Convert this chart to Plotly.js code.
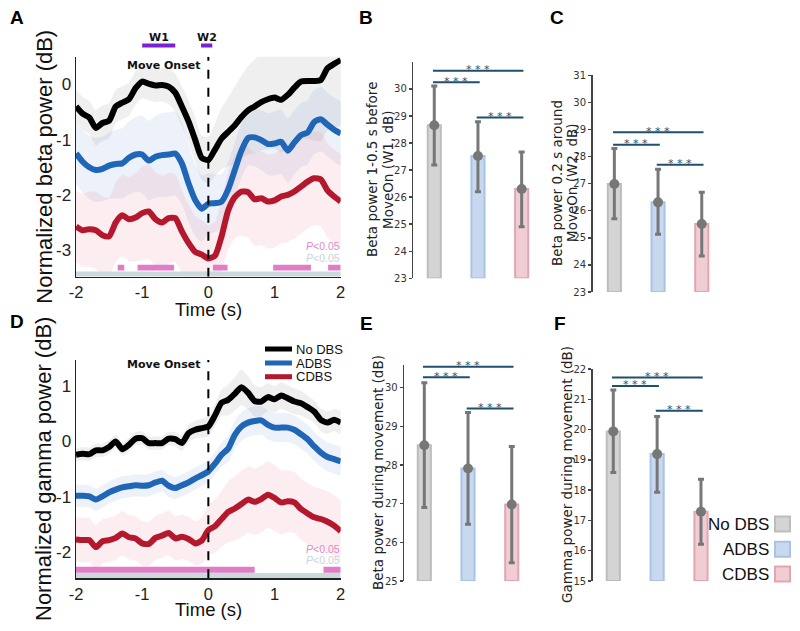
<!DOCTYPE html>
<html><head><meta charset="utf-8">
<script src="https://cdn.plot.ly/plotly-3.0.1.min.js"></script>
<style>html,body{margin:0;padding:0;background:#fff}#chart{width:800px;height:631px}</style>
</head><body><div id="chart"></div>
<script>
// ---------- DATA ----------
const time = [-2,-1.9,-1.8,-1.7,-1.6,-1.5,-1.4,-1.3,-1.2,-1.1,-1,-0.9,-0.8,-0.7,-0.6,-0.5,-0.4,-0.3,-0.2,-0.1,0,0.1,0.2,0.3,0.4,0.5,0.6,0.7,0.8,0.9,1,1.1,1.2,1.3,1.4,1.5,1.6,1.7,1.8,1.9,2];
const groups = ['No DBS','ADBS','CDBS'];

// Panel A: normalized beta power (dB)
const betaNoDBS = [-0.40,-0.53,-0.60,-0.79,-0.70,-0.66,-0.40,-0.33,-0.27,-0.07,0.05,0.01,-0.02,-0.01,-0.04,-0.15,-0.40,-0.67,-1.00,-1.33,-1.37,-1.18,-0.98,-0.86,-0.74,-0.59,-0.47,-0.40,-0.32,-0.27,-0.24,-0.28,-0.19,-0.06,0.05,0.06,0.06,0.08,0.29,0.37,0.44];
const betaADBS  = [-1.25,-1.40,-1.50,-1.55,-1.53,-1.47,-1.44,-1.43,-1.33,-1.27,-1.27,-1.38,-1.31,-1.28,-1.27,-1.25,-1.43,-1.79,-2.09,-2.25,-2.16,-2.15,-2.12,-1.90,-1.55,-1.20,-0.97,-0.96,-1.01,-1.08,-1.07,-1.04,-1.20,-1.05,-0.92,-0.87,-0.68,-0.63,-0.73,-0.82,-0.89];
const betaCDBS  = [-2.57,-2.64,-2.62,-2.64,-2.73,-2.75,-2.50,-2.37,-2.44,-2.41,-2.33,-2.30,-2.44,-2.50,-2.42,-2.42,-2.66,-2.87,-3.03,-3.08,-3.15,-3.10,-2.75,-2.28,-2.04,-1.94,-1.95,-2.08,-2.06,-2.12,-2.10,-2.03,-2.00,-1.94,-1.85,-1.76,-1.70,-1.72,-1.92,-2.03,-2.12];
const betaSemNoDBS = [0.30,0.30,0.30,0.32,0.32,0.32,0.30,0.30,0.30,0.30,0.30,0.30,0.30,0.30,0.32,0.34,0.36,0.38,0.40,0.40,0.42,0.48,0.55,0.62,0.70,0.75,0.80,0.85,0.88,0.90,0.92,0.95,0.98,1.00,1.02,1.05,1.08,1.10,1.12,1.15,1.18];
const betaSemADBS  = [0.55,0.56,0.57,0.58,0.58,0.60,0.62,0.64,0.66,0.68,0.70,0.72,0.74,0.76,0.76,0.76,0.74,0.70,0.65,0.60,0.55,0.52,0.50,0.50,0.50,0.50,0.50,0.52,0.54,0.56,0.58,0.58,0.58,0.58,0.58,0.58,0.58,0.58,0.58,0.58,0.58];
const betaSemCDBS  = [0.65,0.66,0.68,0.70,0.70,0.70,0.72,0.74,0.76,0.80,0.85,0.85,0.85,0.85,0.82,0.80,0.75,0.70,0.65,0.62,0.60,0.62,0.65,0.70,0.75,0.80,0.82,0.84,0.85,0.85,0.85,0.85,0.85,0.85,0.85,0.85,0.85,0.85,0.85,0.85,0.85];
const betaSigPink = [[-1.37,-1.27],[-1.07,-0.52],[0.07,0.29],[0.98,1.55],[1.81,2.0]];
const betaSigGray = [[-2,2]];
const windowW1 = [-1.0,-0.5];
const windowW2 = [-0.11,0.06];

// Panel D: normalized gamma power (dB)
const gammaNoDBS = [-0.24,-0.22,-0.23,-0.16,-0.16,-0.10,0.00,-0.14,-0.06,0.05,0.06,-0.03,-0.03,-0.03,0.05,0.04,-0.03,0.15,0.21,0.24,0.27,0.47,0.70,0.75,0.86,0.98,0.88,0.73,0.72,0.80,0.76,0.83,0.78,0.72,0.69,0.62,0.54,0.39,0.34,0.39,0.34];
const gammaADBS  = [-0.98,-0.98,-0.99,-1.05,-0.99,-0.92,-0.87,-0.83,-0.81,-0.79,-0.80,-0.79,-0.74,-0.71,-0.80,-0.84,-0.79,-0.74,-0.67,-0.61,-0.54,-0.40,-0.24,-0.13,0.12,0.27,0.34,0.37,0.38,0.30,0.25,0.25,0.25,0.21,0.13,0.04,-0.09,-0.20,-0.28,-0.32,-0.36];
const gammaCDBS  = [-1.77,-1.78,-1.78,-1.91,-1.80,-1.78,-1.74,-1.66,-1.73,-1.75,-1.84,-1.85,-1.74,-1.70,-1.65,-1.75,-1.72,-1.76,-1.84,-1.79,-1.60,-1.53,-1.40,-1.27,-1.21,-1.13,-1.05,-1.09,-1.04,-0.96,-1.02,-1.10,-1.08,-1.10,-1.22,-1.30,-1.37,-1.40,-1.45,-1.52,-1.62];
const gammaSemNoDBS = [0.12,0.12,0.12,0.12,0.12,0.12,0.12,0.12,0.12,0.12,0.12,0.12,0.12,0.12,0.12,0.13,0.14,0.15,0.16,0.17,0.18,0.20,0.24,0.28,0.30,0.32,0.30,0.28,0.26,0.25,0.24,0.24,0.24,0.23,0.22,0.21,0.20,0.20,0.20,0.20,0.20];
const gammaSemADBS  = [0.20,0.20,0.20,0.20,0.20,0.20,0.20,0.20,0.20,0.20,0.20,0.20,0.20,0.20,0.20,0.20,0.20,0.20,0.20,0.20,0.20,0.20,0.22,0.24,0.25,0.26,0.26,0.26,0.26,0.26,0.26,0.26,0.26,0.26,0.26,0.26,0.26,0.26,0.26,0.26,0.26];
const gammaSemCDBS  = [0.40,0.40,0.40,0.40,0.40,0.40,0.40,0.40,0.40,0.40,0.40,0.40,0.40,0.40,0.40,0.40,0.40,0.40,0.40,0.42,0.45,0.48,0.50,0.55,0.58,0.60,0.60,0.60,0.60,0.60,0.60,0.58,0.56,0.55,0.55,0.55,0.55,0.55,0.55,0.55,0.55];
const gammaSigPink = [[-2,0.70],[1.74,2.0]];
const gammaSigGray = [[-2,2]];

// Bar panels: mean, lower and upper whisker, significance bar heights
const sigPairs = [[1,3],[1,2],[2,3]];
const bMean = [28.66,27.52,26.30], bLow = [27.19,26.20,24.91], bHigh = [30.11,28.79,27.67], bSig = [30.67,30.25,28.94];
const cMean = [26.99,26.31,25.51], cLow = [25.70,25.13,24.33], cHigh = [28.30,27.53,26.68], cSig = [28.90,28.44,27.70];
const eMean = [28.51,27.91,26.98], eLow = [26.90,26.47,25.47], eHigh = [30.13,29.36,28.48], eSig = [30.54,30.27,29.46];
const fMean = [19.94,19.19,17.29], fLow = [18.58,17.93,16.21], fHigh = [21.31,20.43,18.36], fSig = [21.72,21.44,20.62];

// ---------- STYLE ----------
const W = 800, H = 631;
const px = v => v / W, py = v => 1 - v / H;
const AR = 'Liberation Sans, Arial, sans-serif';
const DV = 'DejaVu Sans, Verdana, sans-serif';
const lineCol = ['#000000','#1f66b7','#b3182d'];
const bandCol = ['rgba(140,140,140,0.14)','rgba(90,140,210,0.11)','rgba(230,110,130,0.12)'];
const barFill = ['#d4d4d4','#c8d8ee','#f0cdd3'];
const barEdge = ['#bdbdbd','#a9c3e5','#e2a6b1'];
const sigCol = '#1f4f6d';
const pinkStrip = '#df7ec6', grayStrip = '#c9d9dc';

const traces = [], shapes = [], annotations = [];
const layout = {width:W, height:H, margin:{l:0,r:0,t:0,b:0}, paper_bgcolor:'#fff', plot_bgcolor:'rgba(0,0,0,0)', showlegend:false, shapes, annotations};

function linePanel(k, series, sems, yrange, ydomPx, yticks, pinkIv, grayIv, pinkY, grayY) {
  const xa = 'x' + k, ya = 'y' + k;
  series.forEach((s, i) => {
    const up = s.map((v, j) => v + sems[i][j]);
    const lo = s.map((v, j) => v - sems[i][j]);
    traces.push({type:'scatter', mode:'lines', x: time.concat(time.slice().reverse()), y: up.concat(lo.slice().reverse()),
      fill:'toself', fillcolor: bandCol[i], line:{width:0, shape:'spline', smoothing:0.6}, hoverinfo:'skip', xaxis:xa, yaxis:ya});
  });
  [2,1,0].forEach(i => {
    traces.push({type:'scatter', mode:'lines', x: time, y: series[i], name: groups[i],
      line:{color: lineCol[i], width:6, shape:'spline', smoothing:0.6}, xaxis:xa, yaxis:ya});
  });
  layout['xaxis' + k] = {domain:[px(76), px(340.7)], range:[-2,2], anchor:'y' + k, showline:true, linecolor:'#222', linewidth:1.5,
    tickvals:[-2,-1,0,1,2], ticktext:['-2','-1','0','1','2'], ticks:'', tickfont:{family:AR, size:16.5, color:'#222'}, showgrid:false, zeroline:false, fixedrange:true};
  layout['yaxis' + k] = {domain:[py(ydomPx[1]), py(ydomPx[0])], range: yrange, anchor:'x' + k, showline:true, linecolor:'#222', linewidth:1.5,
    tickvals: yticks, ticktext: yticks.map(v => String(v)), ticks:'', tickfont:{family:AR, size:17, color:'#222'}, showgrid:false, zeroline:false, fixedrange:true};
  grayIv.forEach(iv => shapes.push({type:'rect', xref:xa, yref:ya, x0:iv[0], x1:iv[1], y0:grayY[0], y1:grayY[1], fillcolor:grayStrip, line:{width:0}, layer:'above'}));
  pinkIv.forEach(iv => shapes.push({type:'rect', xref:xa, yref:ya, x0:iv[0], x1:iv[1], y0:pinkY[0], y1:pinkY[1], fillcolor:pinkStrip, line:{width:0}, layer:'above'}));
  shapes.push({type:'line', xref:xa, yref:ya, x0:0, x1:0, y0:yrange[0], y1:yrange[1], line:{color:'#000', width:2, dash:'dash'}, layer:'above'});
}

linePanel('', [betaNoDBS, betaADBS, betaCDBS], [betaSemNoDBS, betaSemADBS, betaSemCDBS], [-3.48, 0.5], [56.7, 276.7], [0,-1,-2,-3],
  betaSigPink, betaSigGray, [-3.369,-3.266], [-3.477,-3.387]);
linePanel('2', [gammaNoDBS, gammaADBS, gammaCDBS], [gammaSemNoDBS, gammaSemADBS, gammaSemCDBS], [-2.47, 1.47], [360, 578.3], [1,0,-1,-2],
  gammaSigPink, gammaSigGray, [-2.368,-2.26], [-2.464,-2.374]);

function barPanel(k, means, lo, hi, sig, xdomPx, xrange, ydomPx, yrange, tickvals) {
  const xa = 'x' + k, ya = 'y' + k;
  const base = yrange[0];
  traces.push({type:'bar', x:[1,2,3], y: means.map(m => m - base), base: base, width:0.3,
    marker:{color: barFill, line:{color: barEdge, width:2}}, hoverinfo:'skip', xaxis:xa, yaxis:ya});
  traces.push({type:'scatter', mode:'markers', x:[1,2,3], y: means, marker:{color:'#777', size:10},
    error_y:{type:'data', symmetric:false, array: hi.map((h, i) => h - means[i]), arrayminus: means.map((m, i) => m - lo[i]), color:'#777', thickness:3, width:3},
    cliponaxis:false, xaxis:xa, yaxis:ya});
  layout['xaxis' + k] = {domain:[px(xdomPx[0]), px(xdomPx[1])], range: xrange, anchor: ya, visible:false, fixedrange:true};
  layout['yaxis' + k] = {domain:[py(ydomPx[1]), py(ydomPx[0])], range: yrange, anchor: xa, showline:true, linecolor:'#444', linewidth:1.5,
    ticks:'outside', ticklen:3, tickwidth:1.5, tickcolor:'#444', tickvals: tickvals, tickfont:{family:DV, size:10, color:'#333'},
    showgrid:false, zeroline:false, fixedrange:true};
  sigPairs.forEach((p, i) => {
    shapes.push({type:'line', xref:xa, yref:ya, x0:p[0] - 0.03, x1:p[1] + 0.04, y0:sig[i], y1:sig[i], line:{color:sigCol, width:2}});
    annotations.push({xref:xa, yref:ya, x:(p[0] + p[1]) / 2, y:sig[i], text:'* * *', showarrow:false, yanchor:'middle', xanchor:'center',
      yshift:1, font:{family:DV, size:11, color:sigCol}});
  });
}

barPanel('3', bMean, bLow, bHigh, bSig, [413.3, 543.5], [0.52, 3.5], [61.9, 278.3], [23, 31], [23,24,25,26,27,28,29,30]);
barPanel('4', cMean, cLow, cHigh, cSig, [592.5, 723.6], [0.5, 3.5], [75.3, 292], [23, 31], [23,24,25,26,27,28,29,30,31]);
barPanel('5', eMean, eLow, eHigh, eSig, [404.2, 533.6], [0.54, 3.5], [364.5, 581], [25, 30.6], [25,26,27,28,29,30]);
barPanel('6', fMean, fLow, fHigh, fSig, [592.7, 722.9], [0.53, 3.5], [369, 581], [15, 22], [15,16,17,18,19,20,21,22]);

// ---------- TEXT ----------
function ann(x, y, text, size, opts) {
  annotations.push(Object.assign({xref:'paper', yref:'paper', x:px(x), y:py(y), text, showarrow:false,
    xanchor:'center', yanchor:'middle', font:{family:AR, size:size, color:'#111'}}, opts || {}));
}
// panel letters
[['A',17,18],['B',366,18],['C',557,18],['D',17,321],['E',366,323],['F',560,323]].forEach(l => ann(l[1], l[2], '<b>' + l[0] + '</b>', 19, {font:{family:AR, size:19, color:'#000'}}));
// line panel titles
ann(45, 166.7, 'Normalized beta power (dB)', 22, {textangle:-90});
ann(43, 469, 'Normalized gamma power (dB)', 22, {textangle:-90});
ann(208, 309, 'Time (s)', 18.5);
ann(208, 609, 'Time (s)', 18.5);
// bar panel titles (each line placed separately)
const dvTitle = {family:DV, size:13.5, color:'#222'};
ann(372, 170, 'Beta power 1-0.5 s before', 13.5, {textangle:-90, font:dvTitle});
ann(388, 170, 'MoveOn (W1, dB)', 13.5, {textangle:-90, font:dvTitle});
ann(557, 183, 'Beta power 0.2 s around', 13.5, {textangle:-90, font:dvTitle});
ann(572, 183, 'MoveOn (W2, dB)', 13.5, {textangle:-90, font:dvTitle});
ann(378, 473, 'Beta power during movement (dB)', 13.5, {textangle:-90, font:dvTitle});
ann(567, 475, 'Gamma power during movement (dB)', 13.5, {textangle:-90, font:dvTitle});
// move onset
annotations.push({xref:'x', yref:'paper', x:0, y:py(65.7), xanchor:'right', yanchor:'middle', xshift:-6, text:'<b>Move Onset</b>', showarrow:false, font:{family:DV, size:11, color:'#111'}});
annotations.push({xref:'x2', yref:'paper', x:0, y:py(364.3), xanchor:'right', yanchor:'middle', xshift:-6, text:'<b>Move Onset</b>', showarrow:false, font:{family:DV, size:11, color:'#111'}});
// windows W1, W2
[[windowW1,'W1'],[windowW2,'W2']].forEach(w => {
  shapes.push({type:'line', xref:'x', yref:'paper', x0:w[0][0], x1:w[0][1], y0:py(45.5), y1:py(45.5), line:{color:'#7a22d3', width:4}});
  annotations.push({xref:'x', yref:'paper', x:(w[0][0] + w[0][1]) / 2, y:py(37), xanchor:'center', yanchor:'middle', text:'<b>' + w[1] + '</b>', showarrow:false, font:{family:DV, size:11, color:'#111'}});
});
// P<0.05 labels
[[246.2,257.8],[548.8,560.4]].forEach(r => {
  ann(341.7, r[0], '<i>P</i>&lt;0.05', 10.5, {xanchor:'right', font:{family:AR, size:10.5, color:'#d98ccb'}});
  ann(341.7, r[1], '<i>P</i>&lt;0.05', 10.5, {xanchor:'right', font:{family:AR, size:10.5, color:'#c9d4d9'}});
});
// legend in D
[349, 363, 376.7].forEach((y, i) => {
  shapes.push({type:'line', xref:'paper', yref:'paper', x0:px(265), x1:px(292), y0:py(y), y1:py(y), line:{color:lineCol[i], width:5}});
  ann(294, y, groups[i], 13, {xanchor:'left', font:{family:AR, size:13, color:'#111'}});
});
// legend in F
[524, 549.3, 574].forEach((y, i) => {
  shapes.push({type:'rect', xref:'paper', yref:'paper', x0:px(775), x1:px(790), y0:py(y + 7.5), y1:py(y - 7.5), fillcolor:barFill[i], line:{color:barEdge[i], width:2}});
  ann(771, y, groups[i], 17, {xanchor:'right', font:{family:AR, size:17, color:'#111'}});
});

Plotly.newPlot('chart', traces, layout, {staticPlot:true, displayModeBar:false});
</script>
</body></html>
